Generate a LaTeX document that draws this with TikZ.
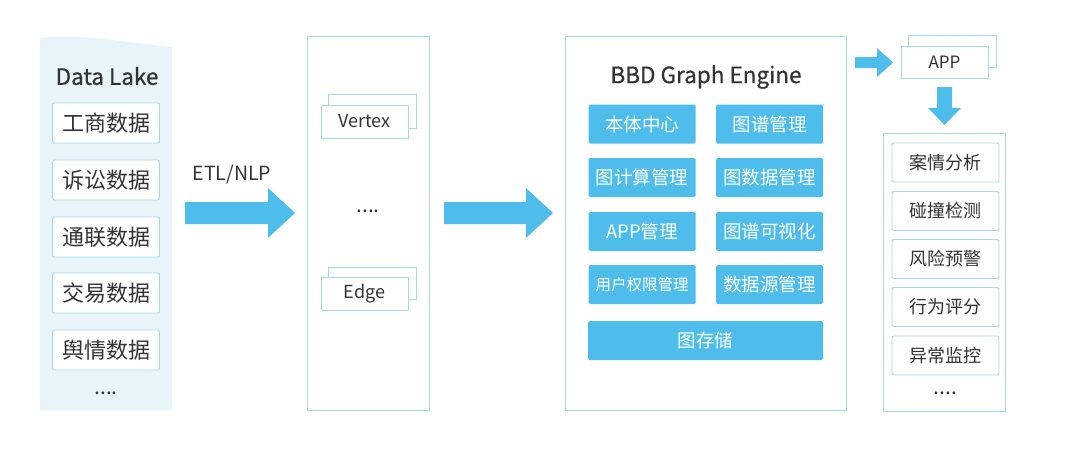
\documentclass[tikz,border=0pt]{standalone}
\usepackage{fontspec}
\setmainfont{Noto Sans CJK SC}
\newfontfamily\medfont[FakeBold=0.6]{Noto Sans CJK SC}
\begin{document}
\begin{tikzpicture}[x=1pt,y=-1pt,
  pborder/.style={draw=lineblue,line width=1pt},
  lbox/.style={draw=lineblue,fill=white,rounded corners=2pt,line width=0.9pt,minimum width=107pt,minimum height=40pt,font=\fontsize{22}{25}\selectfont,text=txt,inner sep=0pt},
  rbox/.style={draw=lineblue,fill=white,rounded corners=2pt,line width=0.9pt,minimum width=107pt,minimum height=39pt,font=\fontsize{18}{21}\selectfont,text=txt,inner sep=0pt},
  btn/.style={fill=btnblue,rounded corners=1.5pt,minimum width=107pt,minimum height=39pt,font=\fontsize{18.5}{21}\selectfont,text=white,inner sep=0pt},
  card/.style={draw=lineblue,fill=white,line width=0.9pt,minimum width=87pt,minimum height=33pt,font=\fontsize{18}{21}\selectfont,text=txt,inner sep=0pt},
  dots/.style={font=\fontsize{21}{24}\selectfont,text=txt},
  fatarrow/.style={fill=btnblue,draw=none}
]
\definecolor{lineblue}{HTML}{A6D7EA}
\definecolor{btnblue}{HTML}{4FBDEC}
\definecolor{lakefill}{HTML}{E7F4FA}
\definecolor{txt}{HTML}{333333}
\useasboundingbox (0,0) rectangle (1080,469);
\fill[white] (0,0) rectangle (1080,469);

% Data lake panel
\fill[lakefill] (40,38) .. controls (80,33) and (120,42) .. (172,47) -- (172,410) -- (40,410) -- cycle;
\node[font=\fontsize{22.5}{26}\medfont,text=txt] (dl) at (107,76) {Data Lake};
\node[lbox] (l1) at (106,123) {工商数据};
\node[lbox] (l2) at (106,180) {诉讼数据};
\node[lbox] (l3) at (106,237) {通联数据};
\node[lbox] (l4) at (106,293) {交易数据};
\node[lbox] (l5) at (106,350) {舆情数据};
\node[dots] (ld) at (106,393) {....};

% Arrow 1
\fill[fatarrow] (185,202) -- (268,202) -- (268,188) -- (295,213) -- (268,238) -- (268,224) -- (185,224) -- cycle;
\node[font=\fontsize{19.5}{22}\selectfont,text=txt] (etl) at (232,175) {ETL/NLP};

% Middle panel
\draw[pborder] (307,36) rectangle (429,410);
\draw[draw=lineblue,line width=0.9pt,fill=white] (328,94) rectangle (416,128);
\node[card] (vx) at (364.5,121.5) {Vertex};
\draw[draw=lineblue,line width=0.9pt,fill=white] (328,267) rectangle (416,299);
\node[card] (ed) at (364.5,293.5) {Edge};
\node[dots] (md) at (368,211) {....};

% Arrow 2
\fill[fatarrow] (444,202) -- (526,202) -- (526,188) -- (553,213) -- (526,238) -- (526,224) -- (444,224) -- cycle;

% Engine panel
\draw[pborder] (565,36) rectangle (846,410);
\node[font=\fontsize{22.5}{26}\medfont,text=txt] (eng) at (706,77) {BBD Graph Engine};
\node[btn] (b1) at (642,124) {本体中心};
\node[btn] (b2) at (769.5,124) {图谱管理};
\node[btn] (b3) at (642,177.5) {图计算管理};
\node[btn] (b4) at (769.5,177.5) {图数据管理};
\node[btn] (b5) at (642,231.5) {APP管理};
\node[btn] (b6) at (769.5,231.5) {图谱可视化};
\node[btn,font=\fontsize{15.5}{18}\selectfont] (b7) at (642,284.5) {用户权限管理};
\node[btn] (b8) at (769.5,284.5) {数据源管理};
\node[btn,minimum width=235pt] (b9) at (705.5,340.5) {图存储};

% Arrow 3 (to APP)
\fill[fatarrow] (855,57) -- (877,57) -- (877,48) -- (893,62.5) -- (877,77) -- (877,68) -- (855,68) -- cycle;
% APP cards
\draw[draw=lineblue,line width=0.9pt,fill=white] (908,35) rectangle (996,67);
\node[card,minimum width=87pt,minimum height=32pt,font=\fontsize{17}{20}\selectfont] (app) at (944.5,62) {APP};

% Down arrow
\fill[fatarrow] (937,87) -- (952,87) -- (952,108) -- (961,108) -- (944.5,125) -- (928,108) -- (937,108) -- cycle;

% Right panel
\draw[pborder] (883,133) rectangle (1005,411);
\node[rbox] (r1) at (945.5,162.5) {案情分析};
\node[rbox] (r2) at (945.5,211) {碰撞检测};
\node[rbox] (r3) at (945.5,259) {风险预警};
\node[rbox] (r4) at (945.5,307) {行为评分};
\node[rbox] (r5) at (945.5,355.5) {异常监控};
\node[dots] (rd) at (945.5,393) {....};
\end{tikzpicture}
\end{document}
